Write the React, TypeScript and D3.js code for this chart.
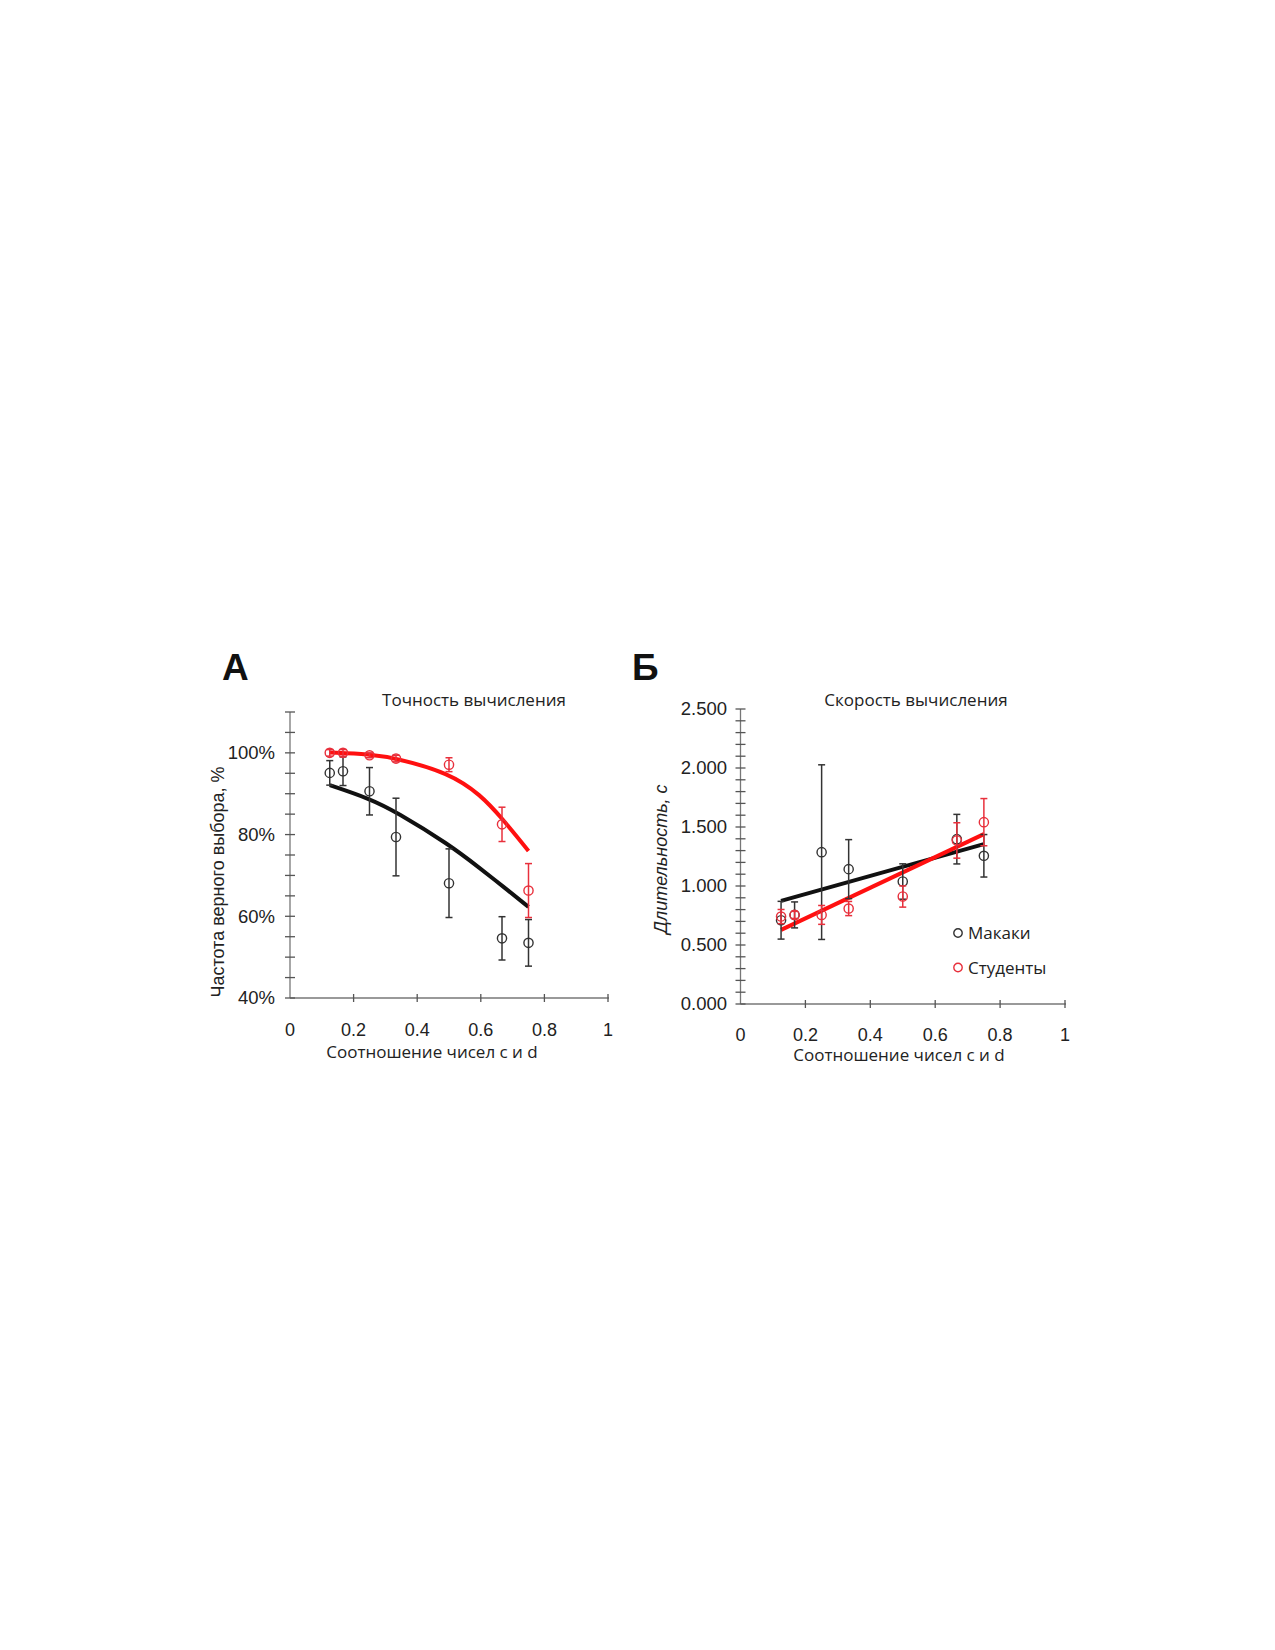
import React from "react";
import * as d3 from "d3";

// ratios c/d shared by both panels
const ratios = [0.125, 1 / 6, 0.25, 1 / 3, 0.5, 2 / 3, 0.75];

// panel A: accuracy, %
const accMonkeys = [95.1, 95.5, 90.6, 79.4, 68.1, 54.6, 53.5];
const accMonkeysErr = [3.0, 3.5, 5.8, 9.5, 8.4, 5.3, 5.7];
const accStudents = [100.0, 100.0, 99.4, 98.6, 97.1, 82.5, 66.3];
const accStudentsErr = [0.8, 0.8, 0.6, 0.8, 1.7, 4.2, 6.6];
const accFitX = [0.125, 0.25, 1 / 3, 0.5, 0.6, 2 / 3, 0.75];
const accMonkeysFit = [92.1, 88.8, 85.6, 77.6, 71.6, 67.5, 62.3];
const accStudentsFit = [100.1, 99.7, 98.7, 95.1, 89.7, 84.0, 76.0];
const accTicks = [40, 60, 80, 100];

// panel B: duration, s
const timeMonkeys = [0.71, 0.755, 1.287, 1.143, 1.038, 1.397, 1.256];
const timeMonkeysErr = [0.16, 0.11, 0.74, 0.25, 0.15, 0.21, 0.18];
const timeStudents = [0.741, 0.755, 0.755, 0.809, 0.911, 1.386, 1.541];
const timeStudentsErr = [0.06, 0.03, 0.08, 0.06, 0.09, 0.15, 0.2];
const timeFitX = [0.125, 0.75];
const timeMonkeysFit = [0.874, 1.355];
const timeStudentsFit = [0.628, 1.44];
const timeTicks = [0, 0.5, 1, 1.5, 2, 2.5];

const xTicks = [0, 0.2, 0.4, 0.6, 0.8, 1];
const legendLabels = ["Макаки", "Студенты"];

const BLACK = "#111";
const RED = "#ff1010";
const PT_BLACK = "#333";
const PT_RED = "#e8303c";
const SANS = "'Liberation Sans', Arial, sans-serif";
const OPEN = "'Open Sans', 'Noto Sans', sans-serif";

type Scale = d3.ScaleLinear<number, number>;

function Points({ x, y, vals, errs, color }: { x: Scale; y: Scale; vals: number[]; errs: number[]; color: string }) {
  return (
    <g>
      {ratios.map((r, i) => {
        const cx = x(r);
        const top = y(vals[i] + errs[i]);
        const bot = y(vals[i] - errs[i]);
        return (
          <g key={i} stroke={color} strokeWidth={1.5} fill="none">
            <line x1={cx} x2={cx} y1={top} y2={bot} />
            <line x1={cx - 3.5} x2={cx + 3.5} y1={top} y2={top} />
            <line x1={cx - 3.5} x2={cx + 3.5} y1={bot} y2={bot} />
            <circle cx={cx} cy={y(vals[i])} r={4.6} strokeWidth={1.4} />
          </g>
        );
      })}
    </g>
  );
}

function Fit({ x, y, xs, ys, color, curved }: { x: Scale; y: Scale; xs: number[]; ys: number[]; color: string; curved: boolean }) {
  const line = d3
    .line<number>()
    .x((_, i) => x(xs[i]))
    .y((d) => y(d))
    .curve(curved ? d3.curveBasis : d3.curveLinear);
  return <path d={line(ys) ?? ""} fill="none" stroke={color} strokeWidth={4} />;
}

function Axes({ x, y, minor, major, fmt, labelRight, xLabelY }: {
  x: Scale; y: Scale; minor: number[]; major: number[]; fmt: (v: number) => string; labelRight: number; xLabelY: number;
}) {
  const [x0] = x.range();
  const [y0, y1] = y.range();
  return (
    <g>
      <line x1={x0} x2={x0} y1={y0} y2={y1} stroke="#777" strokeWidth={1.3} />
      <line x1={x0} x2={x(1) + 1} y1={y0} y2={y0} stroke="#777" strokeWidth={1.3} />
      {minor.map((v, i) => (
        <line key={"m" + i} x1={x0 - 5} x2={x0 + 5} y1={y(v)} y2={y(v)} stroke="#555" strokeWidth={1.3} />
      ))}
      {major.map((v) => (
        <text key={"l" + v} x={labelRight} y={y(v)} dy="0.35em" textAnchor="end" fontFamily={SANS} fontSize={18.5} fill="#222">
          {fmt(v)}
        </text>
      ))}
      {xTicks.map((v) => (
        <g key={"x" + v}>
          {v > 0 && <line x1={x(v)} x2={x(v)} y1={y0 - 4} y2={y0 + 4} stroke="#555" strokeWidth={1.3} />}
          <text x={x(v)} y={xLabelY} dy="0.35em" textAnchor="middle" fontFamily={SANS} fontSize={18} fill="#222">
            {String(v)}
          </text>
        </g>
      ))}
    </g>
  );
}

export default function App() {
  const xA = d3.scaleLinear().domain([0, 1]).range([290, 608]);
  const yA = d3.scaleLinear().domain([40, 110]).range([998, 712]);
  const xB = d3.scaleLinear().domain([0, 1]).range([740.5, 1065]);
  const yB = d3.scaleLinear().domain([0, 2.5]).range([1004, 709]);

  const minorA = d3.range(40, 110.1, 5);
  const minorB = d3.range(0, 25.1, 1).map((v) => v / 10);

  return (
    <svg width={1275} height={1650} style={{ position: "absolute", left: 0, top: 0, background: "#fff" }}>
      {/* panel A */}
      <text x={222} y={680} fontFamily={SANS} fontWeight="bold" fontSize={37} fill="#111">А</text>
      <text x={474} y={706} textAnchor="middle" fontFamily={OPEN} fontSize={17} fill="#222">Точность вычисления</text>
      <Axes x={xA} y={yA} minor={minorA} major={accTicks} fmt={(v) => v + "%"} labelRight={275} xLabelY={1030} />
      <text x={432} y={1058} textAnchor="middle" fontFamily={OPEN} fontSize={17} fill="#222">Соотношение чисел c и d</text>
      <text transform="translate(224,882) rotate(-90)" textAnchor="middle" fontFamily={SANS} fontSize={18} fill="#222">
        Частота верного выбора, %
      </text>
      <Fit x={xA} y={yA} xs={accFitX} ys={accMonkeysFit} color={BLACK} curved />
      <Fit x={xA} y={yA} xs={accFitX} ys={accStudentsFit} color={RED} curved />
      <Points x={xA} y={yA} vals={accMonkeys} errs={accMonkeysErr} color={PT_BLACK} />
      <Points x={xA} y={yA} vals={accStudents} errs={accStudentsErr} color={PT_RED} />

      {/* panel B */}
      <text x={632} y={680} fontFamily={SANS} fontWeight="bold" fontSize={37} fill="#111">Б</text>
      <text x={916} y={706} textAnchor="middle" fontFamily={OPEN} fontSize={17} fill="#222">Скорость вычисления</text>
      <Axes x={xB} y={yB} minor={minorB} major={timeTicks} fmt={d3.format(".3f")} labelRight={727} xLabelY={1035} />
      <text x={899} y={1061} textAnchor="middle" fontFamily={OPEN} fontSize={17} fill="#222">Соотношение чисел c и d</text>
      <text transform="translate(667,859) rotate(-90)" textAnchor="middle" fontFamily={SANS} fontStyle="italic" fontSize={18} fill="#222">
        Длительность, с
      </text>
      <Fit x={xB} y={yB} xs={timeFitX} ys={timeMonkeysFit} color={BLACK} curved={false} />
      <Fit x={xB} y={yB} xs={timeFitX} ys={timeStudentsFit} color={RED} curved={false} />
      <Points x={xB} y={yB} vals={timeMonkeys} errs={timeMonkeysErr} color={PT_BLACK} />
      <Points x={xB} y={yB} vals={timeStudents} errs={timeStudentsErr} color={PT_RED} />

      {/* legend */}
      {legendLabels.map((label, i) => (
        <g key={label} transform={`translate(958,${933 + i * 34.5})`}>
          <circle r={4.2} fill="none" stroke={i === 0 ? PT_BLACK : PT_RED} strokeWidth={1.4} />
          <text x={10} dy="0.38em" fontFamily={OPEN} fontSize={17} fill="#222">{label}</text>
        </g>
      ))}
    </svg>
  );
}
